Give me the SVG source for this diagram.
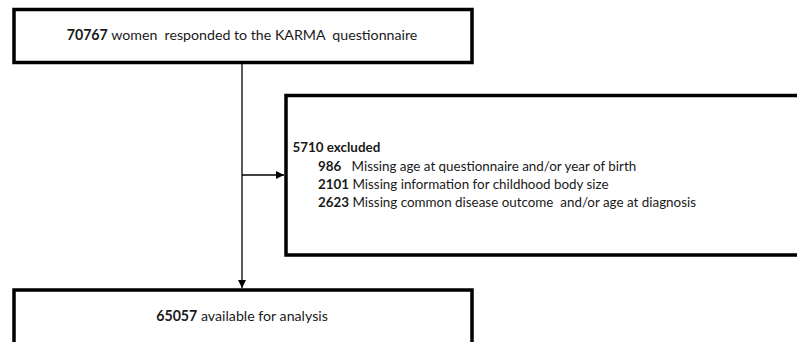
<svg xmlns="http://www.w3.org/2000/svg" width="797" height="342" viewBox="0 0 797 342">
<style>
.box{fill:#fff;stroke:#000;stroke-width:3.5}
.t{font-family:Lato,"Liberation Sans",sans-serif;font-size:14.2px;fill:#1a1a1a;white-space:pre}
.s{font-size:13.4px}
.b{font-weight:bold}
.c{stroke:#000;stroke-width:1.3;fill:none}
</style>
<defs>
<marker id="ah2" viewBox="0 0 10 10" refX="10" refY="5" markerWidth="8" markerHeight="8" markerUnits="userSpaceOnUse" orient="auto"><path d="M0,0 L10,5 L0,10 z" fill="#000"/></marker>
</defs>
<g id="connectors">
<line class="c" x1="242" y1="63" x2="242" y2="288" marker-end="url(#ah2)"/>
<line class="c" x1="242" y1="175" x2="284" y2="175" marker-end="url(#ah2)"/>
</g>
<g id="n1">
<rect class="box" x="14" y="9.5" width="458" height="53"/>
<text class="t" x="242" y="40" text-anchor="middle" xml:space="preserve"><tspan class="b">70767</tspan> women  responded to the KARMA  questionnaire</text>
</g>
<g id="n2">
<rect class="box" x="286" y="95.5" width="520" height="159.5"/>
<text class="t s" x="292.5" y="152"><tspan class="b">5710 excluded</tspan></text>
<text class="t s" x="318" y="170.5" xml:space="preserve"><tspan class="b">986</tspan>   Missing age at questionnaire and/or year of birth</text>
<text class="t s" x="318" y="188.5" xml:space="preserve"><tspan class="b">2101</tspan> Missing information for childhood body size</text>
<text class="t s" x="318" y="207" xml:space="preserve"><tspan class="b">2623</tspan> Missing common disease outcome  and/or age at diagnosis</text>
</g>
<g id="n3">
<rect class="box" x="14" y="290" width="458" height="70"/>
<text class="t" x="242" y="321" text-anchor="middle" xml:space="preserve"><tspan class="b">65057</tspan> available for analysis</text>
</g>
</svg>
